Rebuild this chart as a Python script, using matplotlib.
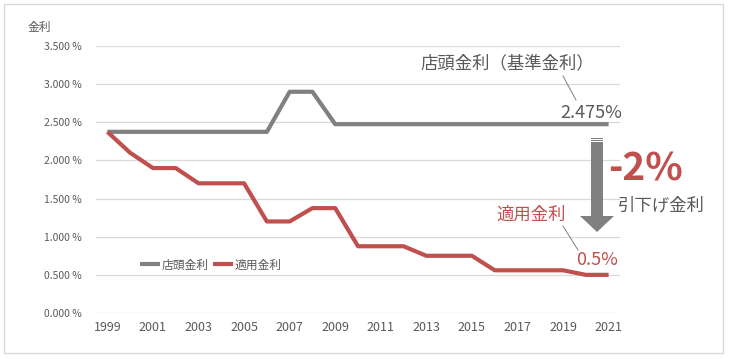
import matplotlib
matplotlib.use("Agg")
import matplotlib.pyplot as plt
from matplotlib.patches import Rectangle, Polygon
from matplotlib.lines import Line2D

plt.rcParams['font.family'] = ['Noto Sans CJK JP', 'DejaVu Sans']

years = list(range(1999, 2022))
base_rate = [2.375, 2.375, 2.375, 2.375, 2.375, 2.375, 2.375, 2.375, 2.9, 2.9,
             2.475, 2.475, 2.475, 2.475, 2.475, 2.475, 2.475, 2.475, 2.475, 2.475,
             2.475, 2.475, 2.475]
applied_rate = [2.375, 2.1, 1.9, 1.9, 1.7, 1.7, 1.7, 1.2, 1.2, 1.375,
                1.375, 0.875, 0.875, 0.875, 0.75, 0.75, 0.75, 0.56, 0.56, 0.56,
                0.56, 0.5, 0.5]
yticks = [0, 0.5, 1.0, 1.5, 2.0, 2.5, 3.0, 3.5]
xtick_years = list(range(1999, 2022, 2))

W, H = 729, 359
GRAY = '#808080'
RED = '#c0504d'
TXT = '#595959'

fig = plt.figure(figsize=(W / 100, H / 100), dpi=100)

def fx(x):
    return x / W

def fy(y):
    return 1 - y / H

# figure border
fig.patches.append(Rectangle((fx(4), fy(353)), fx(719), (349) / H, transform=fig.transFigure,
                             fill=False, edgecolor='#d9d9d9', linewidth=1))

ax = fig.add_axes([fx(96), fy(313), fx(620 - 96), (313 - 46) / H])
ax.plot(years, base_rate, color=GRAY, lw=3, solid_capstyle='butt', label='店頭金利', zorder=3)
ax.plot(years, applied_rate, color=RED, lw=3, solid_capstyle='butt', label='適用金利', zorder=3)

ax.set_xlim(1998.5, 2021.5)
ax.set_ylim(0, 3.5)
ax.set_yticks(yticks)
ax.set_yticklabels([f'{v:.3f} %' for v in yticks], color=TXT, fontsize=7.5)
ax.set_xticks(xtick_years)
ax.set_xticklabels([str(y) for y in xtick_years], color=TXT, fontsize=9)
ax.tick_params(length=0, pad=6)
ax.tick_params(axis='y', pad=10)
for s in ax.spines.values():
    s.set_visible(False)
ax.grid(axis='y', color='#d9d9d9', lw=0.9)
ax.set_axisbelow(True)

fig.text(fx(28), fy(27), '金利', fontsize=8.5, color=TXT, va='center', ha='left')

leg = ax.legend(loc='center', bbox_to_anchor=(fx(211), fy(265)), bbox_transform=fig.transFigure,
                ncol=2, frameon=False, fontsize=8.5, handlelength=1.7, handletextpad=0.1,
                columnspacing=0.4, borderpad=0)
for t in leg.get_texts():
    t.set_color(TXT)

# annotations
fig.text(fx(507), fy(63), '店頭金利（基準金利）', fontsize=12.5, color=TXT, ha='center', va='center')
fig.text(fx(622), fy(113), f'{base_rate[-1]:.3f}%', fontsize=13, color=TXT, ha='right', va='center')
fig.add_artist(Line2D([fx(563), fx(576)], [fy(76), fy(100)], color=GRAY, lw=0.7))

fig.text(fx(531), fy(215), '適用金利', fontsize=12.5, color=RED, ha='center', va='center')
fig.text(fx(618), fy(260), f'{applied_rate[-1]:g}%', fontsize=13, color=RED, ha='right', va='center')
fig.add_artist(Line2D([fx(563), fx(578)], [fy(226), fy(250)], color=GRAY, lw=0.7))

# big arrow
ax_pts = [(591, 142), (603, 142), (603, 216), (614, 216), (597, 232), (580, 216), (591, 216)]
fig.patches.append(Polygon([(fx(x), fy(y)) for x, y in ax_pts], closed=True, transform=fig.transFigure,
                           facecolor=GRAY, edgecolor='none'))
for yy in (138, 140):
    fig.patches.append(Rectangle((fx(591), fy(yy + 1)), fx(12), 1 / H, transform=fig.transFigure,
                                 facecolor=GRAY, edgecolor='none'))

diff = applied_rate[-1] - base_rate[-1]
fig.text(fx(646), fy(169), f'-{round(-diff):d}%', fontsize=28, fontweight='bold', color=RED,
         ha='center', va='center')
fig.text(fx(661), fy(205), '引下げ金利', fontsize=12.5, color=TXT, ha='center', va='center')

fig.savefig('out.png', dpi=100)
